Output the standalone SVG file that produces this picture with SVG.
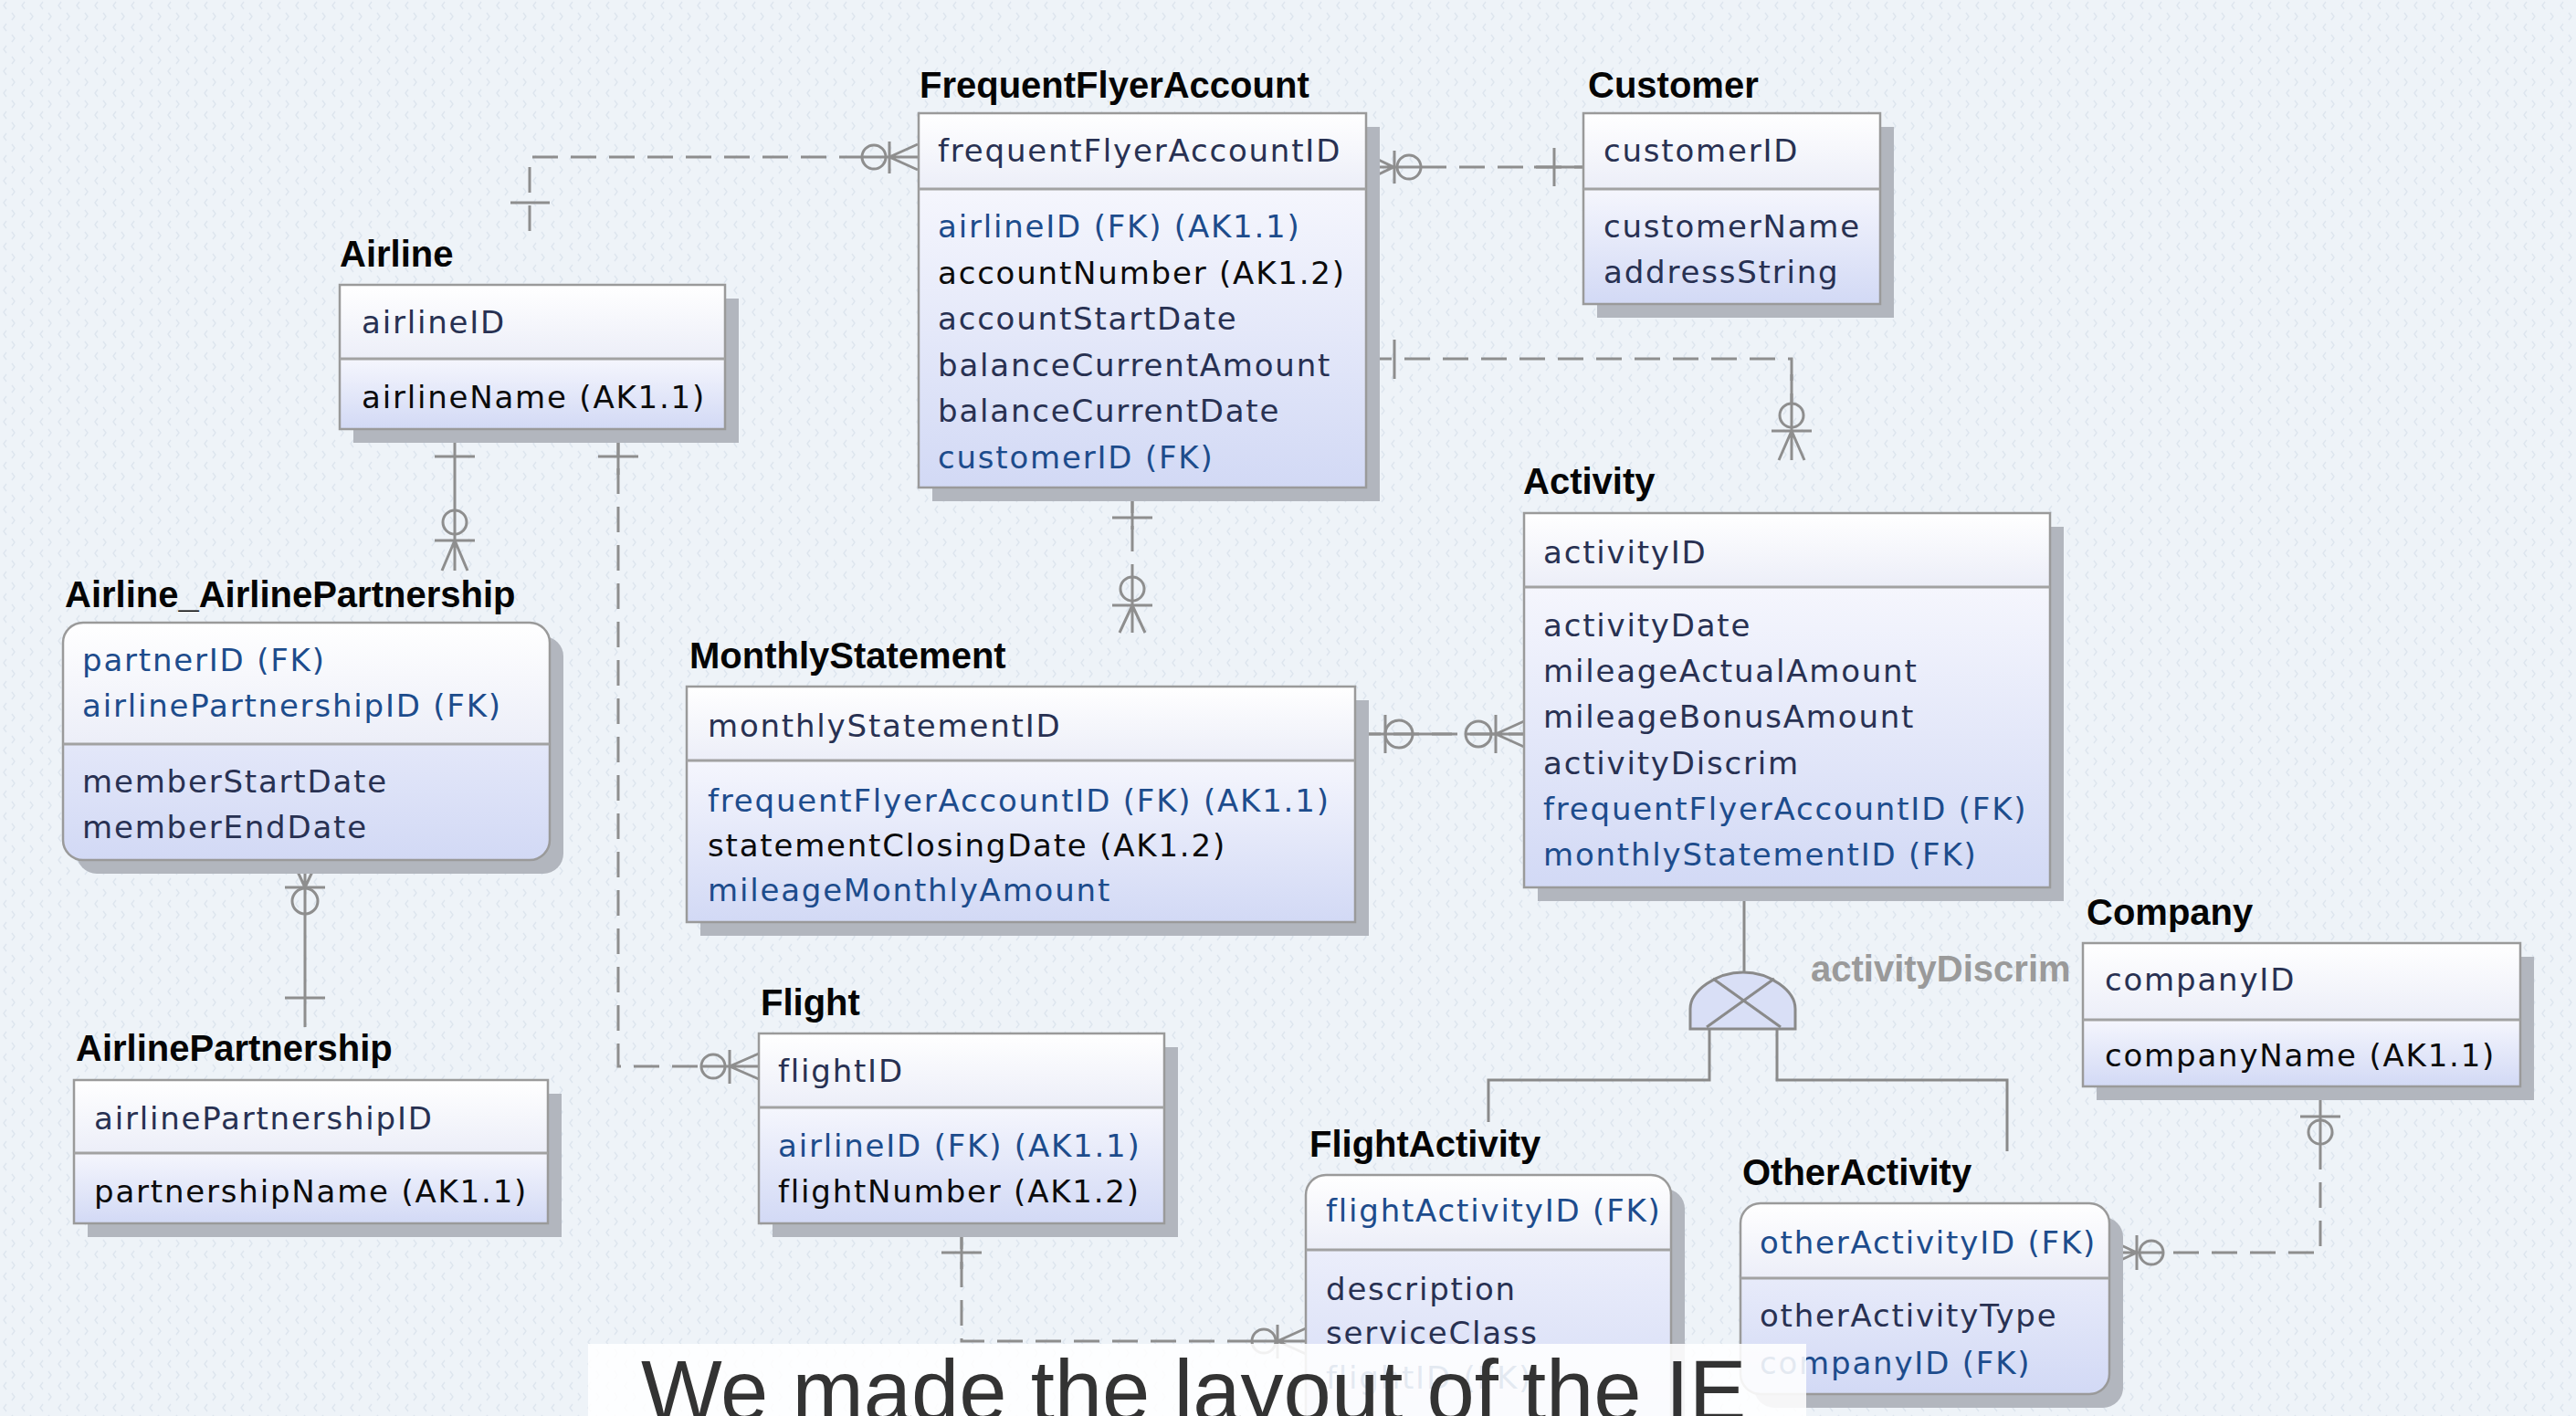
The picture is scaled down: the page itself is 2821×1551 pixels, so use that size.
<svg xmlns="http://www.w3.org/2000/svg" width="2821" height="1551" viewBox="0 0 2821 1551">
<defs>
<pattern id="bgp" width="20" height="24" patternUnits="userSpaceOnUse">
<rect width="20" height="24" fill="#eef3f8"/>
<path d="M7 2 L4 6 L7 10 M13 14 L16 18 L13 22" stroke="#dde5ee" stroke-width="1.3" fill="none"/>
</pattern>
<linearGradient id="gk" x1="0" y1="0" x2="0" y2="1"><stop offset="0" stop-color="#ffffff"/><stop offset="1" stop-color="#eceef8"/></linearGradient>
<linearGradient id="ga" x1="0" y1="0" x2="0" y2="1"><stop offset="0" stop-color="#f5f6fd"/><stop offset="1" stop-color="#d2d9f5"/></linearGradient>
<style>
.t{font-family:"Liberation Sans",Arial,sans-serif;font-weight:bold;font-size:40px;fill:#050505}
.a{font-family:"DejaVu Sans",Verdana,sans-serif;font-size:34px;letter-spacing:1.8px}
.n{fill:#283152}.b{fill:#1d4c8c}.k{fill:#0b0b0b}
.sh{fill:#b2b6be}
.box{fill:none;stroke:#9a9a9a;stroke-width:2.5}
.dv{stroke:#a2a2a2;stroke-width:3}
.cn{fill:none;stroke:#8e8e8e;stroke-width:3}
.ds{stroke-dasharray:28 14}
.st{fill:none;stroke:#8a8a8a;stroke-width:3}
</style>
</defs>
<rect width="2821" height="1551" fill="url(#bgp)"/>

<g id="connectors">
<!-- Airline - FrequentFlyerAccount -->
<path class="cn ds" d="M580 253 V172 H944"/>
<path class="cn" d="M559 222 H602 M944 172 H1005 M974 155 V190 M974 172 L1005 158 M974 172 L1005 186"/>
<circle class="cn" cx="957" cy="172" r="13"/>
<!-- FrequentFlyerAccount - Customer -->
<path class="cn ds" d="M1556 183 H1734"/>
<path class="cn" d="M1496 183 H1556 M1526 183 L1497 169 M1526 183 L1497 197 M1527 165 V201 M1702 162 V204 M1680 183 H1734"/>
<circle class="cn" cx="1543" cy="183" r="13"/>
<!-- FrequentFlyerAccount - Activity -->
<path class="cn ds" d="M1496 393 H1962 V442"/>
<path class="cn" d="M1527 372 V415 M1962 410 V504 M1940 472 H1984 M1962 472 L1948 504 M1962 472 L1976 504"/>
<circle class="cn" cx="1962" cy="455" r="13"/>
<!-- FrequentFlyerAccount - MonthlyStatement -->
<path class="cn ds" d="M1240 534 V632"/>
<path class="cn" d="M1240 534 V580 M1218 567 H1262 M1240 632 V693 M1218 663 H1262 M1240 663 L1226 693 M1240 663 L1254 693"/>
<circle class="cn" cx="1240" cy="645" r="13"/>
<!-- MonthlyStatement - Activity -->
<path class="cn ds" d="M1484 804 H1669"/>
<path class="cn" d="M1484 804 H1590 M1517 783 V825 M1605 804 H1669 M1638 783 V825 M1638 804 L1669 790 M1638 804 L1669 818"/>
<circle class="cn" cx="1532" cy="804" r="15"/>
<circle class="cn" cx="1619" cy="804" r="14"/>
<!-- Airline - Airline_AirlinePartnership (identifying) -->
<path class="cn" d="M498 471 V625 M476 500 H520 M476 592 H520 M498 592 L484 625 M498 592 L512 625"/>
<circle class="cn" cx="498" cy="572" r="13"/>
<!-- AirlinePartnership - Airline_AirlinePartnership (identifying) -->
<path class="cn" d="M334 942 V1125 M334 972 L320 942 M334 972 L348 942 M312 972 H356 M312 1093 H356"/>
<circle class="cn" cx="334" cy="987" r="14"/>
<!-- Airline - Flight -->
<path class="cn ds" d="M677 471 V1168 H768"/>
<path class="cn" d="M677 471 V520 M655 500 H699 M768 1168 H831 M799 1150 V1187 M799 1168 L831 1154 M799 1168 L831 1182"/>
<circle class="cn" cx="781" cy="1168" r="13"/>
<!-- Flight - FlightActivity -->
<path class="cn ds" d="M1053 1340 V1469 H1371"/>
<path class="cn" d="M1053 1340 V1390 M1031 1372 H1075 M1371 1469 H1430 M1399 1451 V1488 M1399 1469 L1430 1455 M1399 1469 L1430 1483"/>
<circle class="cn" cx="1384" cy="1469" r="13"/>
<!-- Company - OtherActivity -->
<path class="cn ds" d="M2541 1253 V1372 H2369"/>
<path class="cn" d="M2541 1190 V1253 M2519 1223 H2563 M2369 1372 H2310 M2340 1372 L2310 1358 M2340 1372 L2310 1386 M2340 1353 V1391"/>
<circle class="cn" cx="2541" cy="1240" r="13"/>
<circle class="cn" cx="2356" cy="1372" r="13"/>
<!-- Subtype (activityDiscrim) -->
<path class="st" d="M1910 972 V1065"/>
<path d="M1851 1127 V1105 C1851 1085 1880 1065 1909 1065 C1938 1065 1966 1085 1966 1105 V1127 Z" fill="#d9dff6" stroke="#8a8a8a" stroke-width="3"/>
<path class="st" d="M1869 1125 L1943 1072 M1950 1125 L1876 1072"/>
<path class="st" d="M1872 1127 V1183 H1630 V1229 M1946 1127 V1183 H2198 V1261"/>
<text x="1983" y="1075" font-family="Liberation Sans, Arial, sans-serif" font-weight="bold" font-size="40" fill="#9a9a9a">activityDiscrim</text>
</g>

<g id="airline">
<text class="t" x="372" y="292">Airline</text>
<rect class="sh" x="387" y="327" width="422" height="158"/>
<rect x="372" y="312" width="422" height="81" fill="url(#gk)"/>
<rect x="372" y="393" width="422" height="77" fill="url(#ga)"/>
<rect class="box" x="372" y="312" width="422" height="158"/>
<line class="dv" x1="372" y1="393" x2="794" y2="393"/>
<text class="a n" x="396" y="365">airlineID</text>
<text class="a k" x="396" y="447">airlineName (AK1.1)</text>
</g>

<g id="frequentFlyerAccount">
<text class="t" x="1007" y="107">FrequentFlyerAccount</text>
<rect class="sh" x="1021" y="139" width="490" height="410"/>
<rect x="1006" y="124" width="490" height="83" fill="url(#gk)"/>
<rect x="1006" y="207" width="490" height="327" fill="url(#ga)"/>
<rect class="box" x="1006" y="124" width="490" height="410"/>
<line class="dv" x1="1006" y1="207" x2="1496" y2="207"/>
<text class="a n" x="1027" y="177">frequentFlyerAccountID</text>
<text class="a b" x="1027" y="260">airlineID (FK) (AK1.1)</text>
<text class="a k" x="1027" y="311">accountNumber (AK1.2)</text>
<text class="a n" x="1027" y="361">accountStartDate</text>
<text class="a n" x="1027" y="412">balanceCurrentAmount</text>
<text class="a n" x="1027" y="462">balanceCurrentDate</text>
<text class="a b" x="1027" y="513">customerID (FK)</text>
</g>

<g id="customer">
<text class="t" x="1739" y="107">Customer</text>
<rect class="sh" x="1749" y="139" width="325" height="209"/>
<rect x="1734" y="124" width="325" height="83" fill="url(#gk)"/>
<rect x="1734" y="207" width="325" height="126" fill="url(#ga)"/>
<rect class="box" x="1734" y="124" width="325" height="209"/>
<line class="dv" x1="1734" y1="207" x2="2059" y2="207"/>
<text class="a n" x="1756" y="177">customerID</text>
<text class="a n" x="1756" y="260">customerName</text>
<text class="a n" x="1756" y="310">addressString</text>
</g>

<g id="airlineAirlinePartnership">
<text class="t" x="71" y="665">Airline_AirlinePartnership</text>
<rect class="sh" x="84" y="697" width="533" height="260" rx="22"/>
<rect x="69" y="682" width="533" height="260" rx="22" fill="url(#ga)"/>
<path d="M69 815 V704 Q69 682 91 682 H580 Q602 682 602 704 V815 Z" fill="url(#gk)"/>
<rect class="box" x="69" y="682" width="533" height="260" rx="22"/>
<line class="dv" x1="69" y1="815" x2="602" y2="815"/>
<text class="a b" x="90" y="735">partnerID (FK)</text>
<text class="a b" x="90" y="785">airlinePartnershipID (FK)</text>
<text class="a n" x="90" y="868">memberStartDate</text>
<text class="a n" x="90" y="918">memberEndDate</text>
</g>

<g id="airlinePartnership">
<text class="t" x="83" y="1162">AirlinePartnership</text>
<rect class="sh" x="96" y="1198" width="519" height="157"/>
<rect x="81" y="1183" width="519" height="80" fill="url(#gk)"/>
<rect x="81" y="1263" width="519" height="77" fill="url(#ga)"/>
<rect class="box" x="81" y="1183" width="519" height="157"/>
<line class="dv" x1="81" y1="1263" x2="600" y2="1263"/>
<text class="a n" x="103" y="1237">airlinePartnershipID</text>
<text class="a k" x="103" y="1317">partnershipName (AK1.1)</text>
</g>

<g id="monthlyStatement">
<text class="t" x="755" y="732">MonthlyStatement</text>
<rect class="sh" x="767" y="767" width="732" height="258"/>
<rect x="752" y="752" width="732" height="81" fill="url(#gk)"/>
<rect x="752" y="833" width="732" height="177" fill="url(#ga)"/>
<rect class="box" x="752" y="752" width="732" height="258"/>
<line class="dv" x1="752" y1="833" x2="1484" y2="833"/>
<text class="a n" x="775" y="807">monthlyStatementID</text>
<text class="a b" x="775" y="889">frequentFlyerAccountID (FK) (AK1.1)</text>
<text class="a k" x="775" y="938">statementClosingDate (AK1.2)</text>
<text class="a b" x="775" y="987">mileageMonthlyAmount</text>
</g>

<g id="activity">
<text class="t" x="1668" y="541">Activity</text>
<rect class="sh" x="1684" y="577" width="576" height="410"/>
<rect x="1669" y="562" width="576" height="81" fill="url(#gk)"/>
<rect x="1669" y="643" width="576" height="329" fill="url(#ga)"/>
<rect class="box" x="1669" y="562" width="576" height="410"/>
<line class="dv" x1="1669" y1="643" x2="2245" y2="643"/>
<text class="a n" x="1690" y="617">activityID</text>
<text class="a n" x="1690" y="697">activityDate</text>
<text class="a n" x="1690" y="747">mileageActualAmount</text>
<text class="a n" x="1690" y="797">mileageBonusAmount</text>
<text class="a n" x="1690" y="848">activityDiscrim</text>
<text class="a b" x="1690" y="898">frequentFlyerAccountID (FK)</text>
<text class="a b" x="1690" y="948">monthlyStatementID (FK)</text>
</g>

<g id="company">
<text class="t" x="2285" y="1013">Company</text>
<rect class="sh" x="2296" y="1048" width="479" height="157"/>
<rect x="2281" y="1033" width="479" height="84" fill="url(#gk)"/>
<rect x="2281" y="1117" width="479" height="73" fill="url(#ga)"/>
<rect class="box" x="2281" y="1033" width="479" height="157"/>
<line class="dv" x1="2281" y1="1117" x2="2760" y2="1117"/>
<text class="a n" x="2305" y="1085">companyID</text>
<text class="a k" x="2305" y="1168">companyName (AK1.1)</text>
</g>

<g id="flight">
<text class="t" x="833" y="1112">Flight</text>
<rect class="sh" x="846" y="1147" width="444" height="208"/>
<rect x="831" y="1132" width="444" height="81" fill="url(#gk)"/>
<rect x="831" y="1213" width="444" height="127" fill="url(#ga)"/>
<rect class="box" x="831" y="1132" width="444" height="208"/>
<line class="dv" x1="831" y1="1213" x2="1275" y2="1213"/>
<text class="a n" x="852" y="1185">flightID</text>
<text class="a b" x="852" y="1267">airlineID (FK) (AK1.1)</text>
<text class="a k" x="852" y="1317">flightNumber (AK1.2)</text>
</g>

<g id="flightActivity">
<text class="t" x="1434" y="1267">FlightActivity</text>
<rect class="sh" x="1445" y="1302" width="400" height="290" rx="22"/>
<rect x="1430" y="1287" width="400" height="290" rx="22" fill="url(#ga)"/>
<path d="M1430 1369 V1309 Q1430 1287 1452 1287 H1808 Q1830 1287 1830 1309 V1369 Z" fill="url(#gk)"/>
<rect class="box" x="1430" y="1287" width="400" height="290" rx="22"/>
<line class="dv" x1="1430" y1="1369" x2="1830" y2="1369"/>
<text class="a b" x="1452" y="1338">flightActivityID (FK)</text>
<text class="a n" x="1452" y="1424">description</text>
<text class="a n" x="1452" y="1472">serviceClass</text>
<text class="a b" x="1452" y="1521">flightID (FK)</text>
</g>

<g id="otherActivity">
<text class="t" x="1908" y="1298">OtherActivity</text>
<rect class="sh" x="1921" y="1333" width="404" height="209" rx="22"/>
<rect x="1906" y="1318" width="404" height="209" rx="22" fill="url(#ga)"/>
<path d="M1906 1400 V1340 Q1906 1318 1928 1318 H2288 Q2310 1318 2310 1340 V1400 Z" fill="url(#gk)"/>
<rect class="box" x="1906" y="1318" width="404" height="209" rx="22"/>
<line class="dv" x1="1906" y1="1400" x2="2310" y2="1400"/>
<text class="a b" x="1927" y="1373">otherActivityID (FK)</text>
<text class="a n" x="1927" y="1453">otherActivityType</text>
<text class="a b" x="1927" y="1505">companyID (FK)</text>
</g>

<g id="caption">
<rect x="644" y="1472" width="1334" height="90" fill="#ffffff" fill-opacity="0.88"/>
<text x="702" y="1556" font-family="Liberation Sans, Arial, sans-serif" font-size="94" fill="#333333">We made the layout of the IE</text>
</g>
</svg>
